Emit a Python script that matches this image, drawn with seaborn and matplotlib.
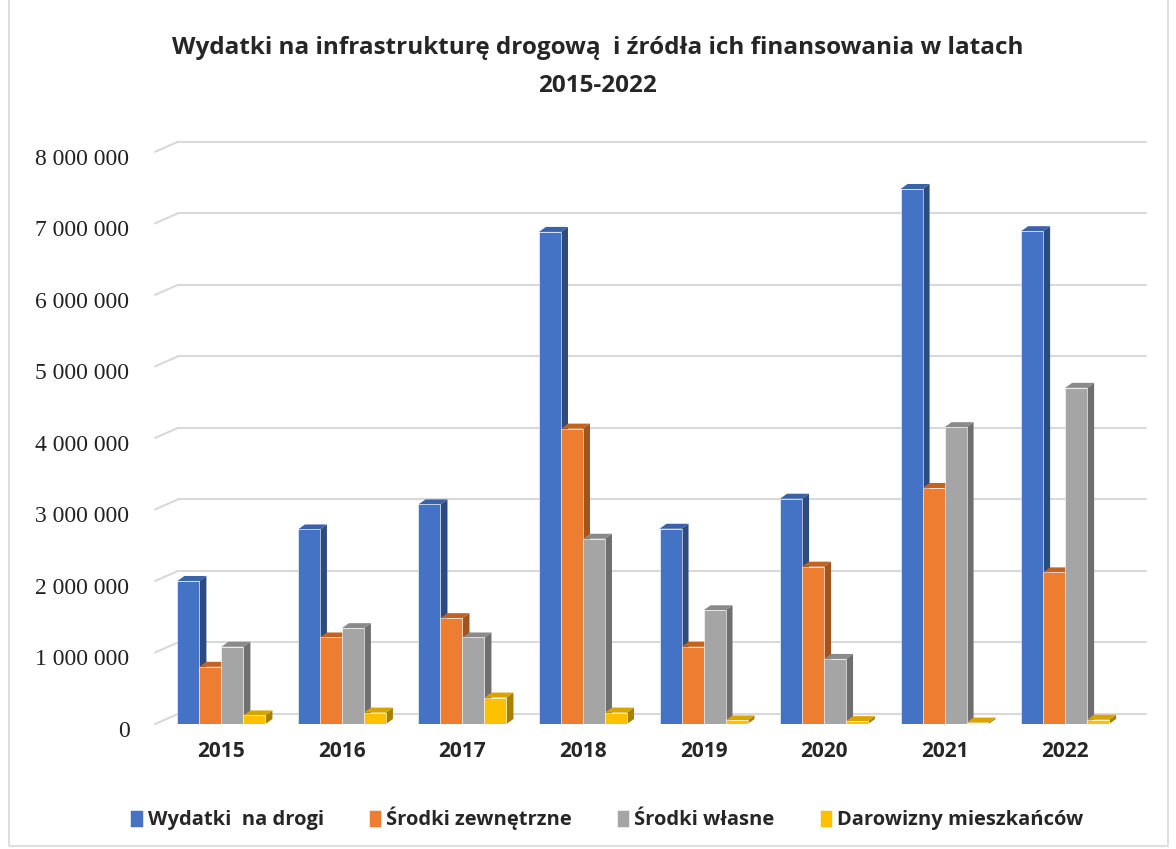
import numpy as np
import pandas as pd
import matplotlib
matplotlib.use("Agg")
import matplotlib.pyplot as plt
import matplotlib.patches as mpatches
import matplotlib.transforms as mtransforms
import seaborn as sns

# data
years = ["2015", "2016", "2017", "2018", "2019", "2020", "2021", "2022"]
wydatki = [2000000, 2720000, 3070000, 6880000, 2730000, 3150000, 7480000, 6890000]
zewnetrzne = [800000, 1210000, 1480000, 4130000, 1080000, 2200000, 3300000, 2120000]
wlasne = [1080000, 1340000, 1210000, 2590000, 1590000, 910000, 4150000, 4700000]
darowizny = [120000, 160000, 370000, 160000, 50000, 40000, 20000, 60000]
series = ["Wydatki  na drogi", "Środki zewnętrzne", "Środki własne", "Darowizny mieszkańców"]

colors = ["#4472C4", "#ED7D31", "#A5A5A5", "#FFC000"]
side_colors = ["#2E4B80", "#A3531C", "#6F6F6F", "#A88000"]
top_colors = ["#3A62A9", "#C4621F", "#8A8A8A", "#D9A300"]

df = pd.DataFrame({
    "rok": years * 4,
    "seria": np.repeat(series, len(years)),
    "wartosc": wydatki + zewnetrzne + wlasne + darowizny,
})

sns.set_style("white")
plt.rcParams['font.family'] = ['Open Sans', 'DejaVu Sans']

fig = plt.figure(figsize=(11.76, 8.49), dpi=100)
ax = fig.add_axes([0.136, 0.1472, 0.823, 0.674])

sns.barplot(data=df, x="rok", y="wartosc", hue="seria", palette=colors,
            width=0.73, gap=0, ax=ax, zorder=3, edgecolor="white", linewidth=0.4,
            saturation=1)

ax.set_ylim(0, 8000000)
ax.set_xlim(-0.51, 7.52)

# fake 3D depth for the bars
ddx = 7 / 120.6
ddy = 5 / 71.5 * 1e6
for i, cont in enumerate(ax.containers):
    for p in cont.patches:
        x0 = p.get_x()
        w = p.get_width()
        h = p.get_height()
        ax.fill([x0 + w, x0 + w + ddx, x0 + w + ddx, x0 + w],
                [0, ddy, h + ddy, h], color=side_colors[i], zorder=2, lw=0)
        ax.fill([x0, x0 + ddx, x0 + w + ddx, x0 + w],
                [h, h + ddy, h + ddy, h], color=top_colors[i], zorder=2, lw=0)

# back wall gridlines + perspective lines
gx = 18 / 968
gy = 10 / 71.5 * 1e6
trans = ax.get_yaxis_transform()
for y in range(0, 8000001, 1000000):
    ax.plot([gx, 1 + gx], [y + gy, y + gy], transform=trans, color="#D9D9D9",
            lw=1.5, zorder=1, clip_on=False)
    ax.plot([-0.005, gx], [y, y + gy], transform=trans, color="#D9D9D9",
            lw=1.5, zorder=1, clip_on=False)

sns.despine(ax=ax, left=True, bottom=True)
ax.set_xlabel("")
ax.set_ylabel("")
ax.set_yticks(range(0, 8000001, 1000000))
ax.set_yticklabels([f"{v:,}".replace(",", " ") for v in range(0, 8000001, 1000000)],
                   family="Liberation Serif", fontsize=17, color="#222222")
ax.set_xticks(range(len(years)))
ax.set_xticklabels(years, fontweight="bold", fontsize=15)
ax.tick_params(axis="y", length=0, pad=22)
ax.tick_params(axis="x", length=0, pad=12)

# y labels sit a few pixels lower in the original
shift = mtransforms.ScaledTranslation(0, -0.05, fig.dpi_scale_trans)
for lab in ax.get_yticklabels():
    lab.set_transform(lab.get_transform() + shift)

handles, labels = ax.get_legend_handles_labels()
ax.get_legend().remove()
fig.legend(handles, labels, loc="center", bbox_to_anchor=(0.516, 0.036), ncol=4,
           frameon=False, prop={"weight": "bold", "size": 14.5},
           handlelength=0.6, handleheight=0.9, handletextpad=0.25, columnspacing=2.25)

fig.text(0.508, 0.943, "Wydatki na infrastrukturę drogową  i źródła ich finansowania w latach",
         ha="center", va="center", fontsize=17.5, fontweight="bold")
fig.text(0.508, 0.899, "2015-2022", ha="center", va="center", fontsize=17.5, fontweight="bold")

fig.patches.append(mpatches.Rectangle((0.008, 0.004), 0.985, 1.2, transform=fig.transFigure,
                                      fill=False, edgecolor="#D9D9D9", lw=1.2))

fig.savefig("out.png", dpi=100, facecolor="white")
